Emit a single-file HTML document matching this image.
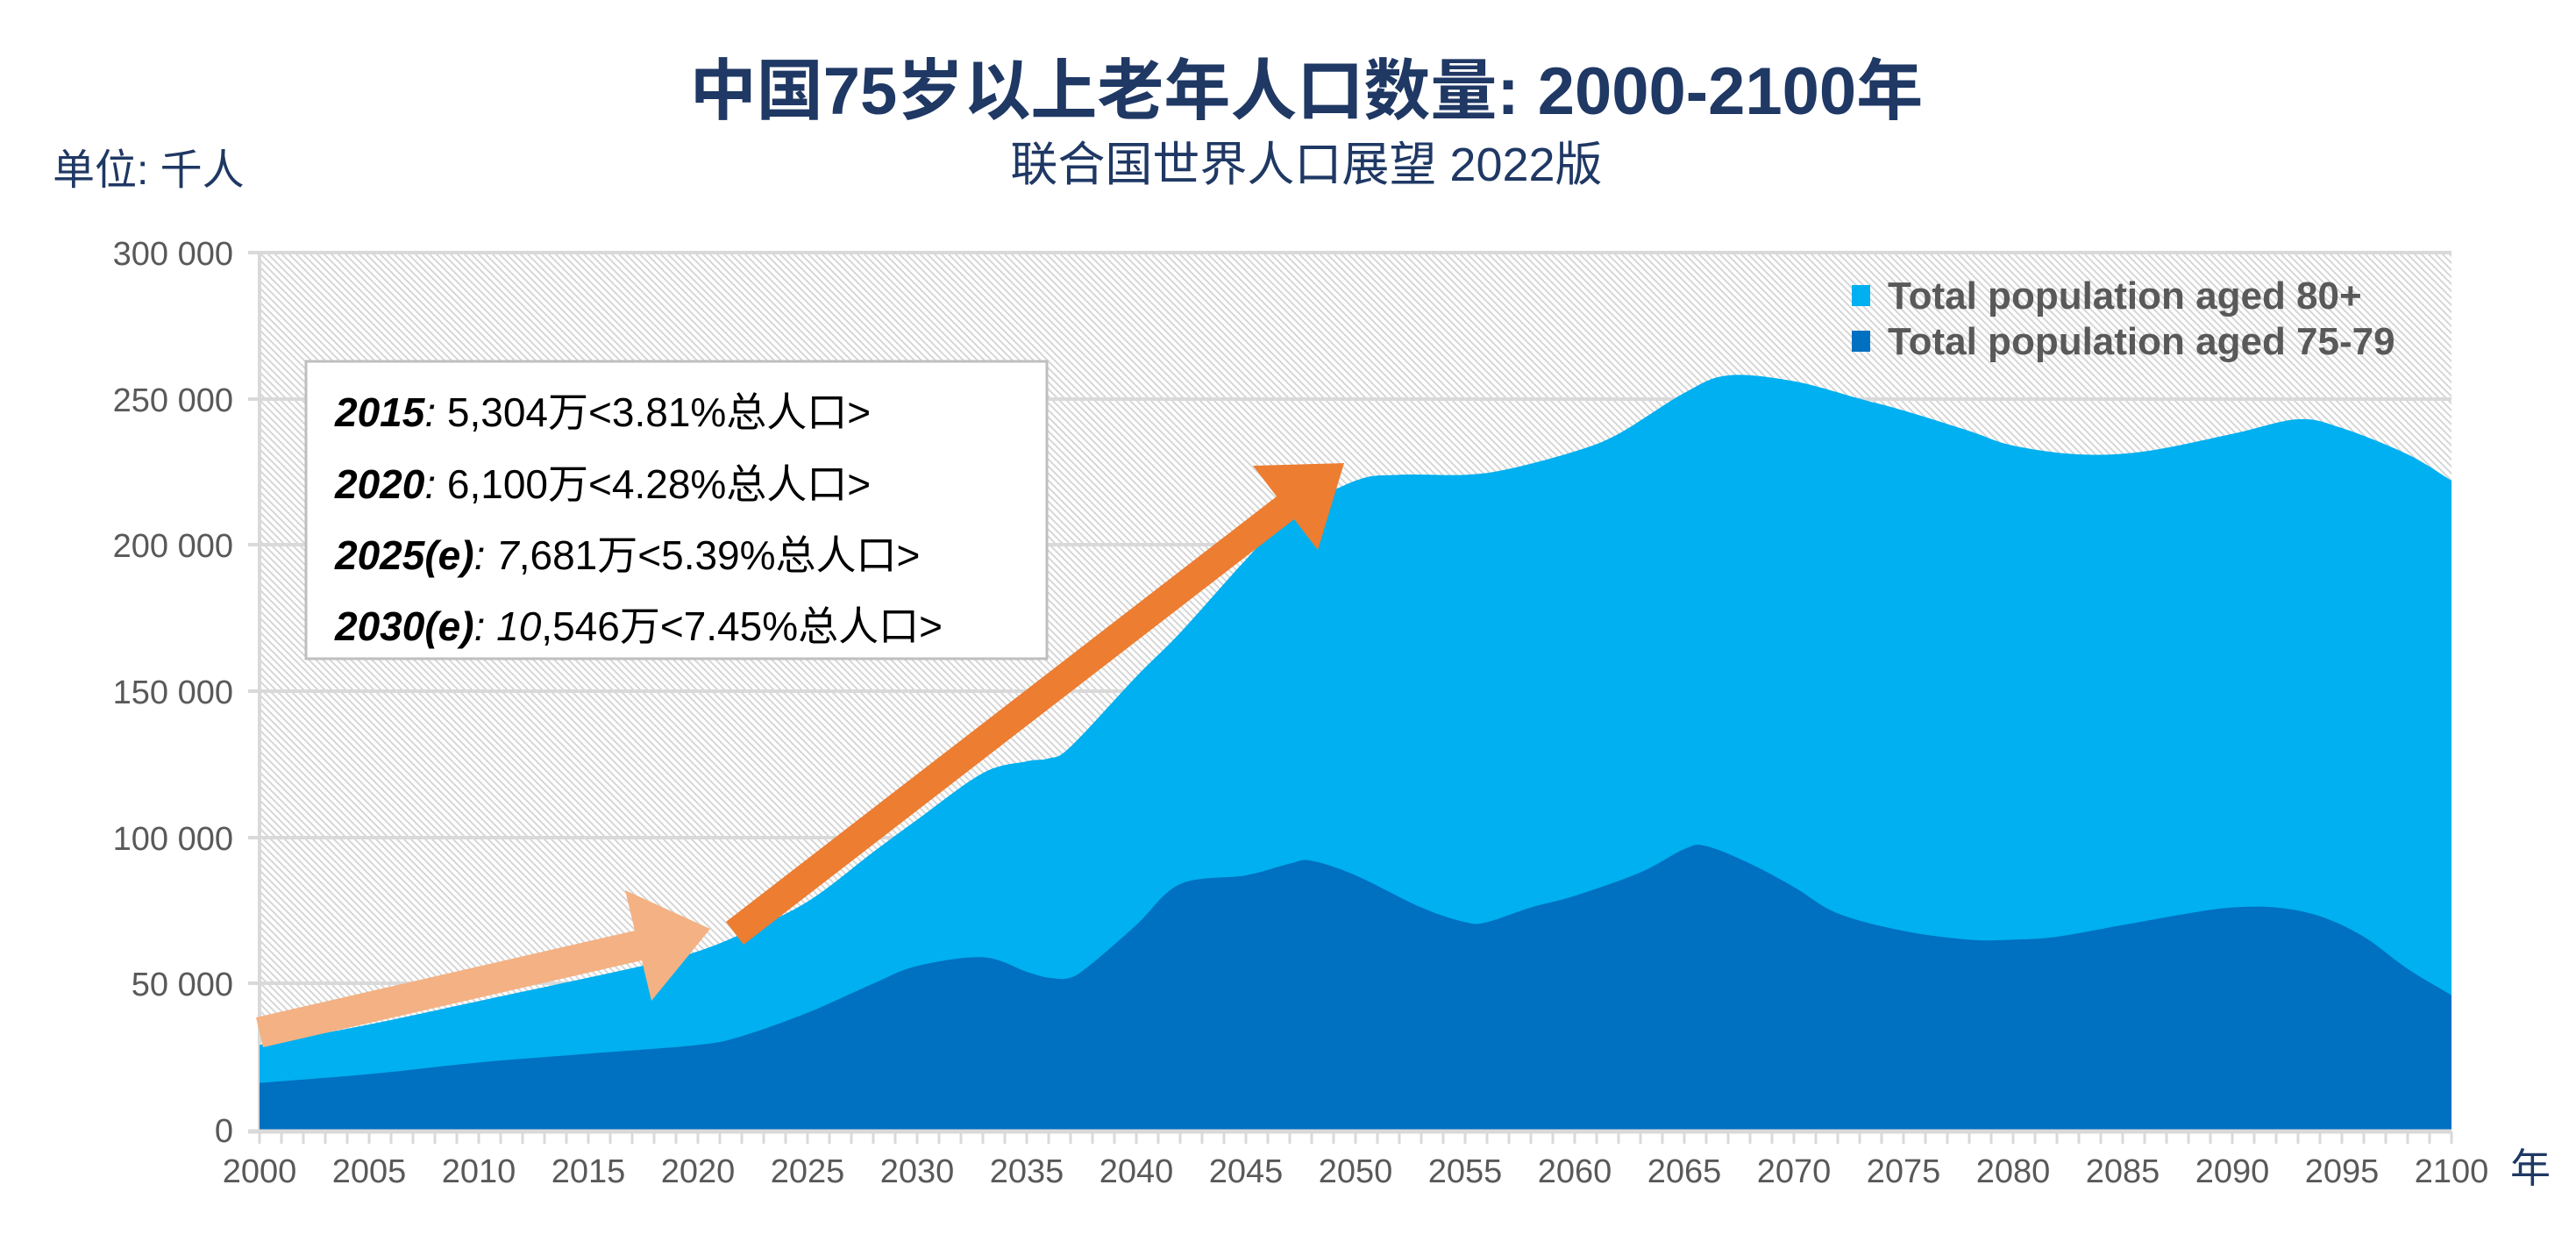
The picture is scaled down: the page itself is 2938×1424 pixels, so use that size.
<!DOCTYPE html>
<html><head><meta charset="utf-8"><style>
html,body{margin:0;padding:0;background:#fff;}
svg{display:block;font-family:"Liberation Sans","Noto Sans CJK SC",sans-serif;}
</style></head><body>
<svg id="c" width="2938" height="1424" viewBox="0 0 2938 1424" xmlns="http://www.w3.org/2000/svg">
<defs>
<pattern id="h" width="8" height="8" patternUnits="userSpaceOnUse">
<rect width="8" height="8" fill="#fff"/>
<path d="M-2,-2 L10,10 M-2,6 L2,10 M6,-2 L10,2" stroke="#d6d6d6" stroke-width="2"/>
</pattern>
</defs>
<rect x="296" y="288" width="2500" height="1000" fill="url(#h)"/>
<g stroke="#d9d9d9" stroke-width="4">
<line x1="283" y1="288" x2="2796" y2="288"/>
<line x1="283" y1="455" x2="2796" y2="455"/>
<line x1="283" y1="621" x2="2796" y2="621"/>
<line x1="283" y1="788" x2="2796" y2="788"/>
<line x1="283" y1="955" x2="2796" y2="955"/>
<line x1="283" y1="1121" x2="2796" y2="1121"/>
<line x1="296" y1="288" x2="296" y2="1288"/>
</g>
<path id="tot" fill="#00b0f0"/>
<path id="dk" fill="#0070c0"/>
<line x1="283" y1="1290" x2="2796" y2="1290" stroke="#d9d9d9" stroke-width="5"/>
<g id="ticks" stroke="#d9d9d9" stroke-width="3"></g>
<g fill="#595959" font-size="38" text-anchor="end">
<text x="266" y="302">300 000</text>
<text x="266" y="469">250 000</text>
<text x="266" y="635">200 000</text>
<text x="266" y="802">150 000</text>
<text x="266" y="969">100 000</text>
<text x="266" y="1135">50 000</text>
<text x="266" y="1302">0</text>
</g>
<g id="xl" fill="#595959" font-size="38" text-anchor="middle"></g>
<text x="2886" y="1348" font-size="46" fill="#1f3864" text-anchor="middle">年</text>
<text x="1490" y="130" font-size="76" font-weight="bold" fill="#1f3864" text-anchor="middle">中国75岁以上老年人口数量: 2000-2100年</text>
<text x="1490" y="206" font-size="54" fill="#1f3864" text-anchor="middle">联合国世界人口展望 2022版</text>
<text x="60" y="210" font-size="48" fill="#1f3864">单位: 千人</text>
<rect x="2112" y="325" width="21" height="24" fill="#00b0f0"/>
<rect x="2112" y="377" width="21" height="24" fill="#0070c0"/>
<g font-size="44" fill="#595959" font-weight="bold">
<text x="2153" y="352">Total population aged 80+</text>
<text x="2153" y="404">Total population aged 75-79</text>
</g>
<rect x="349" y="412" width="845" height="339" fill="#fff" stroke="#bfbfbf" stroke-width="3"/>
<g font-size="46" fill="#000">
<text x="382" y="486"><tspan font-weight="bold" font-style="italic">2015</tspan><tspan font-style="italic">:</tspan> 5,304万&lt;3.81%总人口&gt;</text>
<text x="382" y="568"><tspan font-weight="bold" font-style="italic">2020</tspan><tspan font-style="italic">:</tspan> 6,100万&lt;4.28%总人口&gt;</text>
<text x="382" y="649"><tspan font-weight="bold" font-style="italic">2025(e)</tspan><tspan font-style="italic">: 7</tspan>,681万&lt;5.39%总人口&gt;</text>
<text x="382" y="730"><tspan font-weight="bold" font-style="italic">2030(e)</tspan><tspan font-style="italic">: 10</tspan>,546万&lt;7.45%总人口&gt;</text>
</g>
<polygon points="300,1194 732,1095 743,1141 810,1059 713,1015 724,1061 292,1160" fill="#f4b183"/>
<polygon points="848,1077 1476,592 1503,627 1533,528 1429,531 1456,566 828,1051" fill="#ed7d31"/>
</svg>
<script>
var dk=[[2000,16],[2005,19],[2010,23],[2015,26],[2020,29],[2022,32],[2025,40],[2028,50],[2030,56],[2033,59],[2035,54],[2036,52],[2037,52],[2038,57],[2040,70],[2042,84],[2045,87],[2047,91],[2048,92],[2050,87],[2053,76],[2055,71],[2056,71],[2058,76],[2060,80],[2063,88],[2065,96],[2066,97],[2068,91],[2070,83],[2072,74],[2075,68],[2078,65],[2080,65],[2082,66],[2085,70],[2088,74],[2090,76],[2092,76],[2094,73],[2096,66],[2098,55],[2100,46]];
var tot=[[2000,29],[2005,36],[2010,44],[2015,52],[2018,57],[2020,61],[2022,67],[2025,78],[2028,95],[2030,106],[2033,122],[2035,126],[2036,127],[2037,131],[2040,155],[2042,170],[2045,195],[2047,210],[2050,222],[2052,224],[2055,224],[2057,226],[2060,232],[2062,238],[2065,252],[2067,258],[2070,256],[2073,250],[2075,246],[2078,239],[2080,234],[2083,231],[2086,232],[2090,238],[2093,243],[2095,240],[2098,231],[2100,222]];
function X(y){return 296+(y-2000)*25;}function Y(v){return 1288-v*1000/300;}
function path(d){var p=d.map(function(a){return [X(a[0]),Y(a[1])];});var s="M"+X(2000)+",1288 L"+p[0][0]+","+p[0][1];
for(var i=0;i<p.length-1;i++){var p0=p[i-1]||p[i],p1=p[i],p2=p[i+1],p3=p[i+2]||p2;
s+=" C"+(p1[0]+(p2[0]-p0[0])/6)+","+(p1[1]+(p2[1]-p0[1])/6)+" "+(p2[0]-(p3[0]-p1[0])/6)+","+(p2[1]-(p3[1]-p1[1])/6)+" "+p2[0]+","+p2[1];}
return s+" L"+X(2100)+",1288 Z";}
document.getElementById("tot").setAttribute("d",path(tot));
document.getElementById("dk").setAttribute("d",path(dk));
var t="",l="";for(var y=2000;y<=2100;y++){t+='<line x1="'+X(y)+'" y1="1290" x2="'+X(y)+'" y2="1304"/>';if(y%5==0)l+='<text x="'+X(y)+'" y="1348">'+y+'</text>';}
document.getElementById("ticks").innerHTML=t;document.getElementById("xl").innerHTML=l;
</script>
</body></html>
